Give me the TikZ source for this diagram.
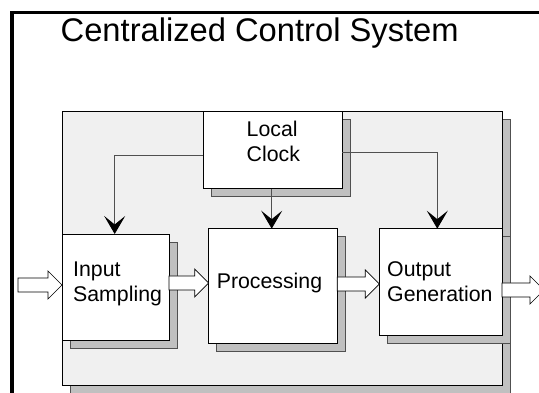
\documentclass[tikz,border=0pt]{standalone}
\usepackage{fontspec}
\setmainfont{Liberation Sans}
\usetikzlibrary{arrows.meta,calc}
\definecolor{bggray}{HTML}{F0F0F0}
\definecolor{shgray}{HTML}{C0C0C0}
\definecolor{shedge}{HTML}{505050}
\definecolor{conngray}{HTML}{505050}
\tikzset{
  box/.style={draw=black, line width=0.8pt, fill=white, anchor=north west, inner sep=0pt, outer sep=0pt},
  shadowed/.style={preaction={draw=shedge, fill=shgray, line width=0.8pt, transform canvas={shift={(8pt,-8pt)}}}},
  lbl/.style={anchor=base west, inner sep=0pt, align=left, font=\fontsize{21.3}{25}\selectfont},
  conn/.style={draw=conngray, line width=0.9pt, -{Stealth[length=18pt, width=21pt, inset=8.5pt, color=black]}},
  blk/.style={draw=black, line width=0.7pt, fill=white, line join=miter},
}
% block arrow: #1 start, #2 end, #3 y centre
\newcommand\blockarrow[3]{%
  \path[blk] let \p1=(#1), \p2=(#2) in
    (\x1,#3-7) -- (\x2-14pt,#3-7) -- (\x2-14pt,#3-14) -- (\x2,#3) -- (\x2-14pt,#3+14) -- (\x2-14pt,#3+7) -- (\x1,#3+7) -- cycle;}
\begin{document}
\begin{tikzpicture}[x=1pt,y=-1pt]
\useasboundingbox (0,0) rectangle (539,393);
\clip (0,0) rectangle (539,393);
\fill[white] (0,0) rectangle (539,393);
\draw[line width=3.5pt] (12,12.5) rectangle (700,600);
\node[anchor=base west, inner sep=0pt, font=\fontsize{32.7}{40}\selectfont] (title) at (60.5,41.7) {Centralized Control System};
\node[box, fill=bggray, shadowed, minimum width=440pt, minimum height=274pt] (bg) at (62,111.7) {};
\node[box, shadowed, minimum width=139pt, minimum height=77pt] (clk) at (203,111.7) {};
\node[box, shadowed, minimum width=107pt, minimum height=106.7pt] (inp) at (62,234) {};
\node[box, shadowed, minimum width=128.6pt, minimum height=114.6pt] (proc) at (208.7,228.7) {};
\node[box, shadowed, minimum width=122.7pt, minimum height=106.6pt] (out) at (379.3,228.7) {};
\node[lbl] (clkt) at (246.5,161.2) {Local\\Clock};
\node[lbl] (inpt) at (73,301.5) {Input\\Sampling};
\node[lbl] (proct) at (216.6,288.3) {Processing};
\node[lbl] (outt) at (387,301.5) {Output\\Generation};
\draw[conn] ($(clk.west)+(0,5.5)$) -| (114.7,0 |- inp.north);
\draw[conn] (271.7,0 |- clk.south) -- (271.7,0 |- proc.north);
\draw[conn] ($(clk.east)+(0,2.5)$) -| (437.3,0 |- out.north);
\coordinate (instart) at (18,285);
\coordinate (outend) at (544,290);
\blockarrow{instart}{inp.west}{285}
\blockarrow{inp.east}{proc.west}{283}
\blockarrow{proc.east}{out.west}{284}
\blockarrow{out.east}{outend}{290}
\end{tikzpicture}
\end{document}
